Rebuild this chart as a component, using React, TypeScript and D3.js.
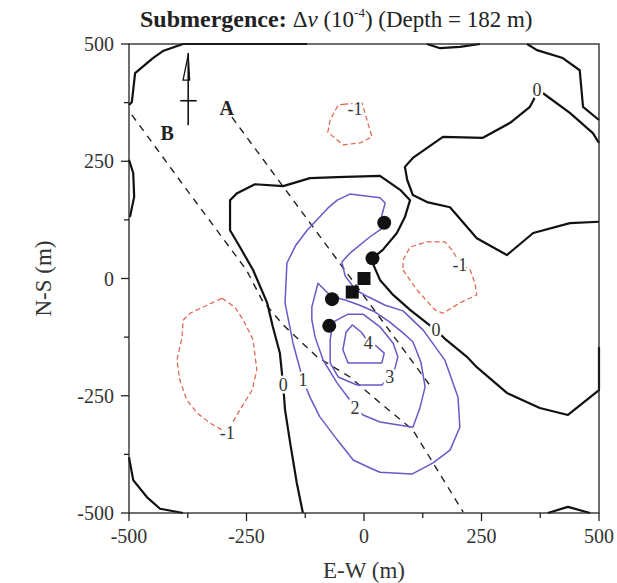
import { useEffect, useRef } from 'react';
import * as d3 from 'd3';

type Pt = [number, number];

const W = 617;
const H = 583;

const majorTicks = [-500, -250, 0, 250, 500];
const minorTicks = [-375, -125, 125, 375];

// zero contours (solid black), metres
const zeroLines: Pt[][] = [
  [[-121, 500], [-385, 500], [-428, 485], [-449, 470], [-487, 438], [-491, 402], [-494, 376], [-500, 370]],
  [[-500, 253], [-491, 225], [-489, 174], [-498, 131]],
  [[-500, -381], [-491, -430], [-462, -466], [-434, -491], [-385, -500]],
  [
    [-130, -500], [-143, -436], [-157, -351], [-168, -280], [-172, -227], [-179, -159], [-194, -103],
    [-206, -52], [-236, 18], [-264, 67], [-285, 103], [-285, 167], [-270, 182], [-232, 201], [-172, 197],
    [-115, 214], [-57, 216], [34, 219], [77, 189], [98, 167], [87, 131], [70, 97], [40, 61], [19, 44],
    [21, 27], [34, -3], [62, -35], [98, -67], [134, -95], [153, -110], [175, -131], [219, -167],
    [240, -189], [304, -244], [374, -276], [434, -291], [500, -238], [500, -146],
  ],
  [
    [500, 121], [438, 118], [360, 97], [304, 50], [240, 86], [183, 152], [134, 163], [104, 178],
    [92, 210], [87, 238], [104, 257], [168, 302], [253, 300], [311, 332], [353, 366], [361, 381],
    [368, 402], [381, 395], [438, 353], [487, 310], [500, 289],
  ],
  [[347, 500], [368, 487], [423, 470], [459, 444], [466, 366], [500, 338]],
  [[134, 500], [162, 491], [204, 494], [247, 500]],
  [[391, -500], [434, -487], [481, -500]],
];

// -1 contours (red dashed, closed)
const negLines: Pt[][] = [
  [[-40, 372], [-55, 370], [-72, 338], [-77, 312], [-45, 285], [-8, 289], [17, 302], [8, 332], [2, 353], [-4, 374]],
  [[83, 18], [113, -25], [151, -67], [168, -74], [204, -52], [240, -35], [236, -10], [226, 18], [204, 33],
    [187, 61], [172, 78], [134, 78], [98, 67], [83, 39]],
  [[-302, -42], [-275, -61], [-257, -88], [-236, -131], [-228, -195], [-238, -238], [-264, -280],
    [-279, -306], [-291, -329], [-328, -308], [-355, -287], [-377, -259], [-392, -216], [-398, -174],
    [-387, -125], [-385, -89], [-370, -74], [-334, -57]],
];

// 1, 2, 3, 4 contours (purple, closed)
const posLines: Pt[][] = [
  [[-30, 180], [34, 172], [45, 161], [38, 135], [40, 108], [13, 89], [-30, 54], [-47, 35], [-40, 5],
    [-17, -25], [9, -39], [45, -57], [83, -69], [126, -110], [172, -174], [200, -253], [204, -317],
    [183, -366], [147, -393], [102, -417], [34, -413], [13, -404], [-23, -387], [-57, -344], [-94, -295],
    [-115, -253], [-130, -216], [-151, -138], [-168, -52], [-164, 33], [-145, 71], [-121, 103], [-77, 150],
    [-57, 167]],
  [[-98, -10], [-83, -25], [-68, -39], [-40, -46], [-9, -57], [23, -71], [55, -93], [83, -116], [104, -135],
    [121, -178], [130, -231], [119, -276], [104, -317], [34, -306], [-2, -291], [-19, -276], [-30, -259],
    [-57, -223], [-87, -174], [-104, -125], [-111, -88], [-111, -61]],
  [[-66, -93], [-34, -76], [-2, -76], [34, -103], [62, -138], [72, -167], [66, -191], [55, -210],
    [38, -227], [-15, -227], [-55, -210], [-72, -180], [-72, -131]],
  [[-25, -99], [-38, -114], [-45, -152], [-34, -180], [38, -180], [43, -159], [26, -144], [9, -135], [-6, -114]],
];

const labelText = ['0', '0', '0', '-1', '-1', '-1', '1', '2', '3', '4'];
const labelX = [-172, 153, 368, -19, 204, -291, -130, -19, 55, 9];
const labelY = [-227, -110, 402, 361, 29, -329, -216, -276, -210, -137];

const profileA: Pt[] = [[-281, 344], [144, -233]];
const profileB: Pt[] = [[-494, 349], [-377, 189], [-250, 18], [-217, -46], [-172, -99], [-100, -167],
  [-30, -210], [34, -265], [104, -323], [211, -498]];
const profileNames = ['A', 'B'];
const profileNameX = [-292, -419];
const profileNameY = [349, 295];

const wells: Pt[] = [[43, 119], [18, 43], [-68, -44], [-74, -101]];
const sources: Pt[] = [[0, 0], [-25, -29]];

const northShaft: Pt[] = [[-374, 481], [-374, 327]];
const northBar: Pt[] = [[-391, 379], [-356, 379]];
const northHead: Pt[] = [[-374, 477], [-385, 423], [-371, 423]];

export default function App() {
  const ref = useRef<SVGSVGElement>(null);

  useEffect(() => {
    const svg = d3.select(ref.current);
    svg.selectAll('*').remove();
    const font = '"Liberation Serif", "Times New Roman", serif';

    const x = d3.scaleLinear().domain([-500, 500]).range([129, 599]);
    const y = d3.scaleLinear().domain([-500, 500]).range([513, 44]);
    const line = d3.line<Pt>().x(d => x(d[0])).y(d => y(d[1]));
    const loop = d3.line<Pt>().x(d => x(d[0])).y(d => y(d[1])).curve(d3.curveLinearClosed);

    svg.append('rect').attr('width', W).attr('height', H).attr('fill', '#fff');

    svg.append('defs').append('clipPath').attr('id', 'plotclip')
      .append('rect').attr('x', x(-500) - 2).attr('y', y(500) - 2)
      .attr('width', x(500) - x(-500) + 4).attr('height', y(-500) - y(500) + 4);

    const g = svg.append('g').attr('clip-path', 'url(#plotclip)');

    // profiles
    [profileA, profileB].forEach(p => {
      g.append('path').attr('d', line(p)).attr('fill', 'none')
        .attr('stroke', '#222').attr('stroke-width', 1.4).attr('stroke-dasharray', '7,6');
    });

    negLines.forEach(p => {
      g.append('path').attr('d', loop(p)).attr('fill', 'none')
        .attr('stroke', '#e0604c').attr('stroke-width', 1.2).attr('stroke-dasharray', '5,3');
    });

    posLines.forEach(p => {
      g.append('path').attr('d', loop(p)).attr('fill', 'none')
        .attr('stroke', '#6a58c8').attr('stroke-width', 1.5).attr('stroke-linejoin', 'round');
    });

    zeroLines.forEach(p => {
      g.append('path').attr('d', line(p)).attr('fill', 'none')
        .attr('stroke', '#111').attr('stroke-width', 2.2).attr('stroke-linejoin', 'round');
    });

    // contour labels
    labelText.forEach((t, i) => {
      g.append('text').attr('x', x(labelX[i])).attr('y', y(labelY[i])).attr('dy', '0.35em')
        .attr('text-anchor', 'middle').attr('font-family', font).attr('font-size', 18)
        .attr('fill', '#333').attr('stroke', '#fff').attr('stroke-width', 5)
        .attr('paint-order', 'stroke').text(t);
    });

    // markers
    g.selectAll('circle.well').data(wells).join('circle')
      .attr('cx', d => x(d[0])).attr('cy', d => y(d[1])).attr('r', 7).attr('fill', '#111');
    g.selectAll('rect.src').data(sources).join('rect')
      .attr('x', d => x(d[0]) - 6.5).attr('y', d => y(d[1]) - 6.5)
      .attr('width', 13).attr('height', 13).attr('fill', '#111');

    // north arrow
    svg.append('path').attr('d', line(northShaft)).attr('stroke', '#111').attr('stroke-width', 1.6);
    svg.append('path').attr('d', line(northBar)).attr('stroke', '#111').attr('stroke-width', 1.6);
    svg.append('path').attr('d', loop(northHead)).attr('fill', 'none').attr('stroke', '#111').attr('stroke-width', 1.3);

    profileNames.forEach((t, i) => {
      svg.append('text').attr('x', x(profileNameX[i])).attr('y', y(profileNameY[i]))
        .attr('text-anchor', 'middle').attr('font-family', font).attr('font-weight', 'bold')
        .attr('font-size', 20).attr('fill', '#222').text(t);
    });

    // frame
    svg.append('rect').attr('x', x(-500)).attr('y', y(500))
      .attr('width', x(500) - x(-500)).attr('height', y(-500) - y(500))
      .attr('fill', 'none').attr('stroke', '#222').attr('stroke-width', 1.3);

    // axes
    const ax = svg.append('g').attr('stroke', '#222').attr('stroke-width', 1.3);
    majorTicks.forEach(v => {
      ax.append('line').attr('x1', x(v)).attr('x2', x(v)).attr('y1', y(-500)).attr('y2', y(-500) + 8);
      ax.append('line').attr('y1', y(v)).attr('y2', y(v)).attr('x1', x(-500)).attr('x2', x(-500) - 8);
    });
    minorTicks.forEach(v => {
      ax.append('line').attr('x1', x(v)).attr('x2', x(v)).attr('y1', y(-500)).attr('y2', y(-500) + 5);
      ax.append('line').attr('y1', y(v)).attr('y2', y(v)).attr('x1', x(-500)).attr('x2', x(-500) - 5);
    });

    majorTicks.forEach(v => {
      svg.append('text').attr('x', x(v)).attr('y', y(-500) + 30).attr('text-anchor', 'middle')
        .attr('font-family', font).attr('font-size', 20).attr('fill', '#333').text(v);
      svg.append('text').attr('x', x(-500) - 15).attr('y', y(v)).attr('dy', '0.35em')
        .attr('text-anchor', 'end').attr('font-family', font).attr('font-size', 20)
        .attr('fill', '#333').text(v);
    });

    svg.append('text').attr('x', (x(-500) + x(500)) / 2).attr('y', 578).attr('text-anchor', 'middle')
      .attr('font-family', font).attr('font-size', 23).attr('fill', '#333').text('E-W (m)');
    svg.append('text').attr('transform', `translate(51,${y(0)}) rotate(-90)`).attr('text-anchor', 'middle')
      .attr('font-family', font).attr('font-size', 23).attr('fill', '#333').text('N-S (m)');

    // title
    const title = svg.append('text').attr('x', 140).attr('y', 27).attr('font-family', font)
      .attr('fill', '#222').attr('font-size', 23);
    title.append('tspan').attr('font-weight', 'bold').attr('font-size', 24).text('Submergence: ');
    title.append('tspan').text('Δ');
    title.append('tspan').attr('font-style', 'italic').text('v');
    title.append('tspan').text(' (10');
    title.append('tspan').attr('font-size', 13).attr('dy', -10).text('-4');
    title.append('tspan').attr('dy', 10).text(') (Depth = 182 m)');
  }, []);

  return <svg ref={ref} width={W} height={H} style={{ position: 'absolute', left: 0, top: 0 }} />;
}
